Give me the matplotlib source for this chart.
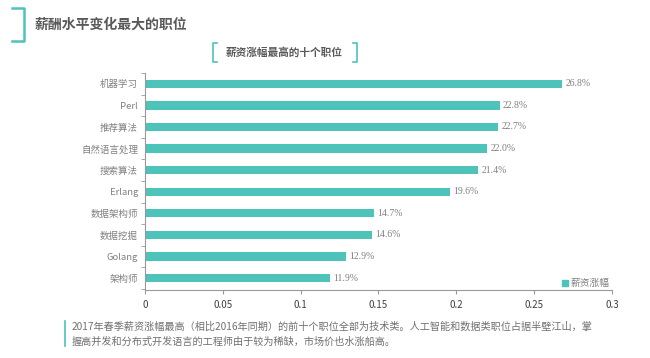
"""Top ten jobs by salary growth"""

import matplotlib
matplotlib.use("Agg")
import matplotlib.pyplot as plt
from matplotlib.lines import Line2D
from matplotlib.patches import Rectangle

plt.rcParams["font.family"] = ["Noto Sans CJK SC", "DejaVu Sans"]

JOBS = ["机器学习", "Perl", "推荐算法", "自然语言处理", "搜索算法",
        "Erlang", "数据架构师", "数据挖掘", "Golang", "架构师"]
GROWTH = [0.268, 0.228, 0.227, 0.220, 0.214, 0.196, 0.147, 0.146, 0.129, 0.119]
LABELS = ["26.8%", "22.8%", "22.7%", "22.0%", "21.4%",
          "19.6%", "14.7%", "14.6%", "12.9%", "11.9%"]
X_TICKS = [0, 0.05, 0.1, 0.15, 0.2, 0.25, 0.3]
X_TICK_LABELS = ["0", "0.05", "0.1", "0.15", "0.2", "0.25", "0.3"]
SERIES = "薪资涨幅"
TITLE = "薪酬水平变化最大的职位"
SUBTITLE = "薪资涨幅最高的十个职位"
NOTE = ("2017年春季薪资涨幅最高（相比2016年同期）的前十个职位全部为技术类。人工智能和数据类职位占据半壁江山，掌\n"
        "握高并发和分布式开发语言的工程师由于较为稀缺，市场价也水涨船高。")

TEAL = "#4dc3ba"
GRAY = "#808080"

fig = plt.figure(figsize=(6.5, 3.58), dpi=100, facecolor="white")
ax = fig.add_axes([0.223, 0.19, 0.7185, 0.606])

ypos = list(range(len(JOBS)))
ax.barh(ypos, GROWTH, height=0.38, color=TEAL)
for y, v, lab in zip(ypos, GROWTH, LABELS):
    ax.text(v + 0.002, y, lab, va="center", ha="left", fontsize=7,
            color=GRAY, family="Liberation Serif")

ax.set_xlim(0, 0.3)
ax.set_ylim(9.55, -0.41)
ax.set_yticks(ypos)
ax.set_yticklabels(JOBS, fontsize=6.8, color=GRAY)
ax.set_yticks([i - 0.5 for i in range(len(JOBS) + 1)], minor=True)
ax.tick_params(axis="y", which="major", length=0, pad=5)
ax.tick_params(axis="y", which="minor", length=3, color="#999999", direction="out")
ax.set_xticks(X_TICKS)
ax.set_xticklabels(X_TICK_LABELS, fontsize=7, color="#404040")
ax.tick_params(axis="x", length=3, color="#999999", pad=4)
for side in ["top", "right"]:
    ax.spines[side].set_visible(False)
for side in ["left", "bottom"]:
    ax.spines[side].set_color("#999999")
    ax.spines[side].set_linewidth(0.8)

handle = Rectangle((0, 0), 1, 1, color=TEAL)
ax.legend([handle], [SERIES], loc="lower right", frameon=False, fontsize=7,
          handlelength=0.6, handleheight=0.6, handletextpad=0.3,
          borderaxespad=0.0, borderpad=0.2, labelcolor=GRAY)

# title bracket
fig.add_artist(Line2D([12 / 650, 24 / 650, 24 / 650, 12 / 650],
                      [1 - 8 / 358, 1 - 8 / 358, 1 - 41 / 358, 1 - 41 / 358],
                      color=TEAL, lw=1.8))
fig.text(35 / 650, 1 - 25 / 358, TITLE, fontsize=10, fontweight="bold",
         color="#595959", va="center", ha="left")

# subtitle with brackets
fig.text(284 / 650, 1 - 52 / 358, SUBTITLE, fontsize=7.7, fontweight="bold",
         color="#595959", va="center", ha="center")
fig.add_artist(Line2D([217 / 650, 213 / 650, 213 / 650, 217 / 650],
                      [1 - 43 / 358, 1 - 43 / 358, 1 - 62 / 358, 1 - 62 / 358],
                      color=TEAL, lw=1.2))
fig.add_artist(Line2D([353 / 650, 357 / 650, 357 / 650, 353 / 650],
                      [1 - 43 / 358, 1 - 43 / 358, 1 - 62 / 358, 1 - 62 / 358],
                      color=TEAL, lw=1.2))

# footnote
fig.add_artist(Line2D([65 / 650, 65 / 650], [1 - 321 / 358, 1 - 346 / 358],
                      color=TEAL, lw=1.2))
fig.text(72 / 650, 1 - 334 / 358, NOTE, fontsize=7.3, color="#707070",
         va="center", ha="left", linespacing=1.55)

fig.savefig("out.png", dpi=100, facecolor="white")
